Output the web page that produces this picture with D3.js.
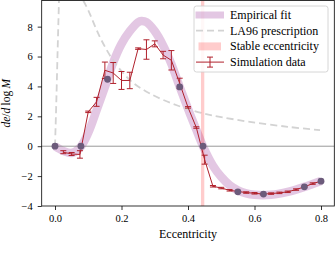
<!DOCTYPE html>
<meta charset="utf-8">
<style>
body { margin: 0; background: #fff; }
text { font-family: "Liberation Serif", serif; fill: #000; }
</style>
<svg width="335" height="268"></svg>
<script src="https://cdn.jsdelivr.net/npm/d3@7"></script>
<script>

// simulation data (eccentricity, de/dlogM, error)
var simE = [0.025, 0.05, 0.075, 0.1, 0.125, 0.15, 0.175, 0.2, 0.225, 0.25, 0.275, 0.3, 0.325, 0.35, 0.375, 0.4,
            0.425, 0.45, 0.475, 0.5, 0.525, 0.55, 0.575, 0.6, 0.625, 0.65, 0.675, 0.7, 0.725, 0.75, 0.775, 0.8];
var simY = [-0.4, -0.52, -0.55, 2.3, 2.97, 5.08, 4.9, 4.4, 4.4, 6.53, 6.47, 6.85, 6.1, 5.75, 4.2, 2.6,
            1.25, -0.9, -2.68, -2.8, -2.95, -3.03, -3.1, -3.15, -3.2, -3.17, -3.12, -3.05, -2.9, -2.72, -2.5, -2.34];
var simErr = [0.1, 0.1, 0.25, 0.05, 0.3, 0.55, 0.7, 0.6, 0.55, 0.05, 0.65, 0.2, 0.25, 0.65, 0.35, 0.05,
              0.05, 0.3, 0.05, 0.05, 0.05, 0.05, 0.05, 0.05, 0.05, 0.05, 0.05, 0.05, 0.05, 0.05, 0.05, 0.05];

// points used for the fit
var dotE = [0, 0.078, 0.158, 0.375, 0.445, 0.55, 0.627, 0.75, 0.8];
var dotY = [0, 0, 4.48, 3.97, 0, -3.05, -3.2, -2.72, -2.34];

// empirical fit curve
var fitE = [0, 0.025, 0.05, 0.075, 0.1, 0.125, 0.15, 0.175, 0.2, 0.225, 0.25, 0.26, 0.275, 0.3, 0.325, 0.35, 0.375,
            0.4, 0.425, 0.445, 0.475, 0.5, 0.525, 0.55, 0.575, 0.6, 0.625, 0.65, 0.675, 0.7, 0.725, 0.75, 0.775, 0.8];
var fitY = [0, -0.31, -0.45, -0.1, 0.9, 2.4, 3.95, 5.6, 6.85, 7.7, 8.3, 8.38, 8.3, 7.7, 6.75, 5.5, 3.97,
            2.5, 1.1, 0, -1.3, -2.05, -2.6, -2.95, -3.15, -3.25, -3.28, -3.25, -3.17, -3.05, -2.9, -2.72, -2.52, -2.32];

// LA96 prescription, two visible branches
var laLeftE = [0, 0.004, 0.008, 0.012];
var laLeftY = [0, 3, 6.5, 9.75];
var laRightE = [0.085, 0.1, 0.135, 0.175, 0.226, 0.286, 0.366, 0.446, 0.5, 0.586, 0.7, 0.797];
var laRightY = [9.75, 9.1, 7.3, 5.75, 4.41, 3.52, 2.74, 2.19, 1.95, 1.63, 1.3, 1.07];

var stableE = [0.439, 0.449];

var xTicks = [0, 0.2, 0.4, 0.6, 0.8],
    yTicks = [-4, -2, 0, 2, 4, 6, 8];

var legendLabels = ["Empirical fit", "LA96 prescription", "Stable eccentricity", "Simulation data"];

var svg = d3.select("svg");

var pLeft = 41.7, pRight = 334.3, pTop = 0.5, pBottom = 206;

var x = d3.scaleLinear().domain([-0.04, 0.84]).range([pLeft, pRight]),
    y = d3.scaleLinear().domain([-4, 9.75]).range([pBottom, pTop]);

svg.append("clipPath").attr("id", "clip")
  .append("rect")
    .attr("x", pLeft).attr("y", pTop)
    .attr("width", pRight - pLeft).attr("height", pBottom - pTop);

var plot = svg.append("g").attr("clip-path", "url(#clip)");

var line = d3.line()
    .x(function(d) { return x(d[0]); })
    .y(function(d) { return y(d[1]); });

var smooth = d3.line()
    .x(function(d) { return x(d[0]); })
    .y(function(d) { return y(d[1]); })
    .curve(d3.curveCatmullRom);

var fitColor = "rgba(128,0,128,0.22)",
    laColor = "#d3d3d3",
    stableColor = "rgba(255,0,0,0.2)",
    simColor = "#b0212c",
    dotColor = "#6c5b7b";

// empirical fit
plot.append("path")
    .datum(d3.zip(fitE, fitY))
    .attr("d", smooth)
    .attr("fill", "none")
    .attr("stroke", fitColor)
    .attr("stroke-width", 8.5);

// LA96
[d3.zip(laLeftE, laLeftY), d3.zip(laRightE, laRightY)].forEach(function(pts) {
  plot.append("path")
      .datum(pts)
      .attr("d", smooth)
      .attr("fill", "none")
      .attr("stroke", laColor)
      .attr("stroke-width", 1.8)
      .attr("stroke-dasharray", "7,4");
});

// stable eccentricity band
plot.append("rect")
    .attr("x", x(stableE[0]))
    .attr("y", pTop)
    .attr("width", x(stableE[1]) - x(stableE[0]))
    .attr("height", pBottom - pTop)
    .attr("fill", stableColor);

// zero line
plot.append("line")
    .attr("x1", pLeft).attr("x2", pRight)
    .attr("y1", y(0)).attr("y2", y(0))
    .attr("stroke", "#8c8c8c")
    .attr("stroke-width", 0.9);

// simulation data with error bars
var sim = d3.zip(simE, simY, simErr);

plot.append("path")
    .datum(sim)
    .attr("d", line)
    .attr("fill", "none")
    .attr("stroke", simColor)
    .attr("stroke-width", 1);

var bars = plot.selectAll(".err")
    .data(sim)
  .enter().append("g")
    .attr("stroke", simColor)
    .attr("stroke-width", 1);

bars.append("line")
    .attr("x1", function(d) { return x(d[0]); })
    .attr("x2", function(d) { return x(d[0]); })
    .attr("y1", function(d) { return y(d[1] - d[2]); })
    .attr("y2", function(d) { return y(d[1] + d[2]); });

[-1, 1].forEach(function(s) {
  bars.append("line")
      .attr("x1", function(d) { return x(d[0]) - 3; })
      .attr("x2", function(d) { return x(d[0]) + 3; })
      .attr("y1", function(d) { return y(d[1] + s * d[2]); })
      .attr("y2", function(d) { return y(d[1] + s * d[2]); });
});

// fit points
plot.selectAll(".dot")
    .data(d3.zip(dotE, dotY))
  .enter().append("circle")
    .attr("cx", function(d) { return x(d[0]); })
    .attr("cy", function(d) { return y(d[1]); })
    .attr("r", 3.4)
    .attr("fill", dotColor);

// axes
var xAxis = svg.append("g")
    .attr("transform", "translate(0," + pBottom + ")")
    .call(d3.axisBottom(x).tickValues(xTicks).tickFormat(d3.format(".1f")).tickSize(4).tickPadding(5));

var yAxis = svg.append("g")
    .attr("transform", "translate(" + pLeft + ",0)")
    .call(d3.axisLeft(y).tickValues(yTicks).tickFormat(d3.format("d")).tickSize(4).tickPadding(5));

[xAxis, yAxis].forEach(function(a) {
  a.select(".domain").remove();
  a.selectAll(".tick line").attr("stroke", "#000").attr("stroke-width", 0.8);
  a.selectAll(".tick text").attr("font-family", "Liberation Serif, serif").attr("font-size", 10.5);
});

svg.append("rect")
    .attr("x", pLeft).attr("y", pTop)
    .attr("width", pRight - pLeft).attr("height", pBottom - pTop)
    .attr("fill", "none")
    .attr("stroke", "#000")
    .attr("stroke-width", 0.8);

svg.append("text")
    .attr("x", (pLeft + pRight) / 2)
    .attr("y", 238)
    .attr("text-anchor", "middle")
    .attr("font-size", 12)
    .text("Eccentricity");

var yl = svg.append("text")
    .attr("transform", "translate(9.5," + (pBottom + pTop) / 2 + ") rotate(-90)")
    .attr("text-anchor", "middle")
    .attr("font-size", 11.5);
yl.append("tspan").attr("font-style", "italic").text("de");
yl.append("tspan").text("/");
yl.append("tspan").attr("font-style", "italic").text("d");
yl.append("tspan").text("\u2009log\u2009");
yl.append("tspan").attr("font-style", "italic").text("M");

// legend
var legend = svg.append("g");

legend.append("rect")
    .attr("x", 194).attr("y", 6)
    .attr("width", 134).attr("height", 66)
    .attr("rx", 2.5)
    .attr("fill", "rgba(255,255,255,0.85)")
    .attr("stroke", "#cccccc")
    .attr("stroke-width", 0.8);

var rowY = [15, 30.7, 46.4, 62.1];

legend.append("line")
    .attr("x1", 195.5).attr("x2", 224)
    .attr("y1", rowY[0]).attr("y2", rowY[0])
    .attr("stroke", fitColor).attr("stroke-width", 7);

legend.append("line")
    .attr("x1", 196).attr("x2", 224)
    .attr("y1", rowY[1]).attr("y2", rowY[1])
    .attr("stroke", laColor).attr("stroke-width", 1.8)
    .attr("stroke-dasharray", "7,4");

legend.append("rect")
    .attr("x", 198.5).attr("y", rowY[2] - 4)
    .attr("width", 22.5).attr("height", 8)
    .attr("fill", stableColor);

legend.append("line")
    .attr("x1", 196).attr("x2", 224)
    .attr("y1", rowY[3]).attr("y2", rowY[3])
    .attr("stroke", simColor);
legend.append("line")
    .attr("x1", 210).attr("x2", 210)
    .attr("y1", rowY[3] - 5).attr("y2", rowY[3] + 5)
    .attr("stroke", simColor);
[-5, 5].forEach(function(o) {
  legend.append("line")
      .attr("x1", 207).attr("x2", 213)
      .attr("y1", rowY[3] + o).attr("y2", rowY[3] + o)
      .attr("stroke", simColor);
});

legend.selectAll(".lab")
    .data(legendLabels)
  .enter().append("text")
    .attr("x", 230)
    .attr("y", function(d, i) { return rowY[i] + 4; })
    .attr("font-size", 12)
    .text(function(d) { return d; });

</script>
